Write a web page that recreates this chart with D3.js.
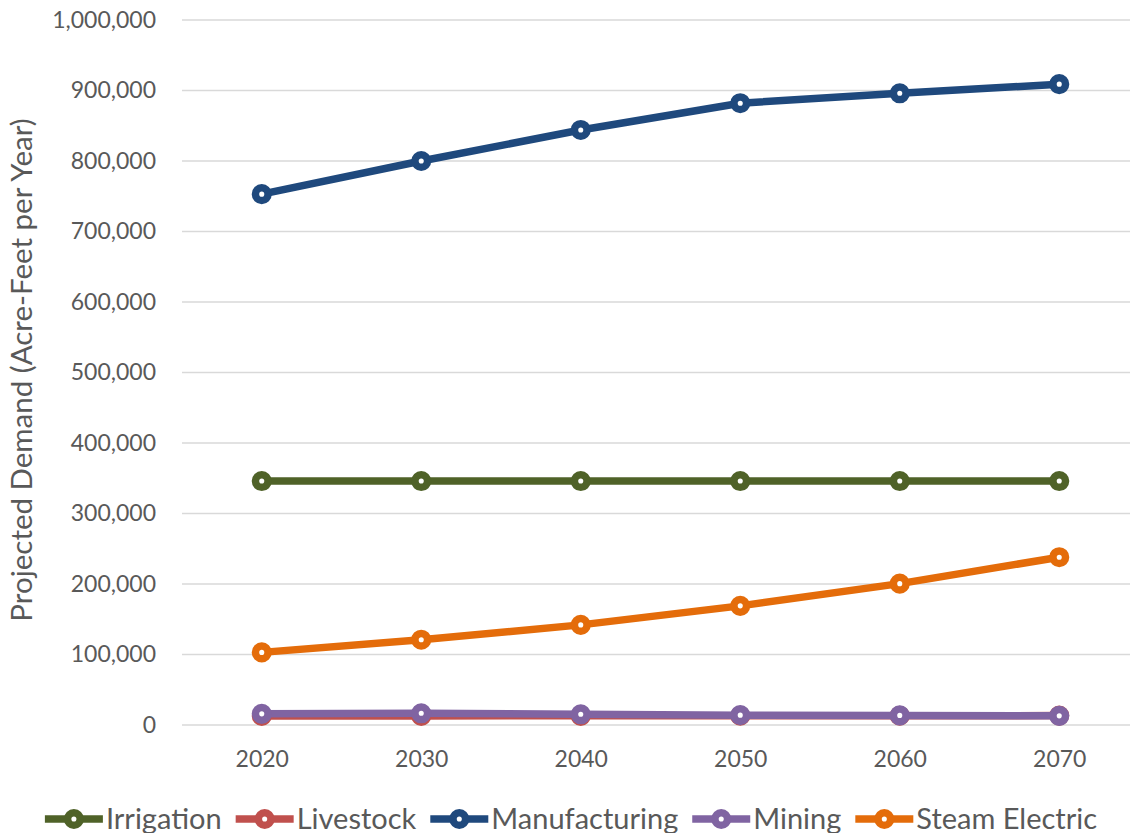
<!DOCTYPE html>
<html>
<head>
<meta charset="utf-8">
<script src="https://cdn.jsdelivr.net/npm/d3@7"></script>
<style>
  html, body { margin: 0; padding: 0; background: #fff; }
  svg { display: block; font-family: Lato, "Open Sans", sans-serif; }
</style>
</head>
<body>
<svg id="chart" width="1130" height="833"></svg>
<script>
// Projected water demand by use category, acre-feet per year
const years = ["2020", "2030", "2040", "2050", "2060", "2070"];
const irrigation    = [346000, 346000, 346000, 346000, 346000, 346000];
const livestock     = [12800, 12900, 13000, 13100, 13200, 13300];
const manufacturing = [753000, 800000, 844000, 882000, 896000, 909000];
const mining        = [15800, 16600, 15200, 14000, 13600, 13000];
const steamElectric = [103000, 121000, 142000, 169000, 200500, 238000];
const yTicks = [0, 100000, 200000, 300000, 400000, 500000, 600000, 700000, 800000, 900000, 1000000];

const seriesNames  = ["Irrigation", "Livestock", "Manufacturing", "Mining", "Steam Electric"];
const seriesValues = [irrigation, livestock, manufacturing, mining, steamElectric];
const seriesColors = ["#4F6228", "#C0504D", "#1F497D", "#8064A2", "#E46C0A"];

const series = seriesNames.map((name, i) => ({
  name, color: seriesColors[i],
  points: years.map((y, j) => ({ year: y, value: seriesValues[i][j] }))
}));

const svg = d3.select("#chart");
const plot = { left: 182, right: 1139, top: 20, bottom: 725 };
const textColor = "#595959";

const x = d3.scalePoint().domain(years).range([plot.left, plot.right]).padding(0.5);
const y = d3.scaleLinear().domain([0, 1000000]).range([plot.bottom, plot.top]);
const fmt = d3.format(",");

// horizontal gridlines
svg.append("g").selectAll("line").data(yTicks).join("line")
  .attr("x1", plot.left).attr("x2", plot.right)
  .attr("y1", d => y(d)).attr("y2", d => y(d))
  .attr("stroke", "#D9D9D9").attr("stroke-width", 1.5);

// y axis labels
const yAxis = svg.append("g").attr("transform", `translate(${plot.left},0)`)
  .call(d3.axisLeft(y).tickValues(yTicks).tickFormat(fmt).tickSize(0).tickPadding(26));
yAxis.select(".domain").remove();
yAxis.selectAll("text").attr("font-size", 23).attr("fill", textColor)
  .attr("font-family", "Lato, sans-serif");

// x axis labels
const xAxis = svg.append("g").attr("transform", `translate(0,${plot.bottom})`)
  .call(d3.axisBottom(x).tickSize(0).tickPadding(26));
xAxis.select(".domain").remove();
xAxis.selectAll("text").attr("font-size", 23).attr("fill", textColor)
  .attr("font-family", "Lato, sans-serif");

// y axis title
svg.append("text")
  .attr("transform", `translate(32,370) rotate(-90)`)
  .attr("text-anchor", "middle")
  .attr("font-size", 29.5).attr("fill", textColor)
  .text("Projected Demand (Acre-Feet per Year)");

// series lines and markers
const line = d3.line().x(d => x(d.year)).y(d => y(d.value));
const gSeries = svg.append("g");
series.forEach(s => {
  const g = gSeries.append("g");
  g.append("path").datum(s.points)
    .attr("d", line).attr("fill", "none")
    .attr("stroke", s.color).attr("stroke-width", 7.5)
    .attr("stroke-linejoin", "round").attr("stroke-linecap", "round");
  g.selectAll("circle").data(s.points).join("circle")
    .attr("cx", d => x(d.year)).attr("cy", d => y(d.value))
    .attr("r", 6.3).attr("fill", "#fff")
    .attr("stroke", s.color).attr("stroke-width", 7.5);
});

// legend
const legend = svg.append("g");
const legendY = 819;
const symW = 58, textGap = 3, itemGap = 14;
let cursor = 0;
const items = series.map(s => {
  const g = legend.append("g");
  g.append("line").attr("x1", 0).attr("x2", symW)
    .attr("y1", legendY).attr("y2", legendY)
    .attr("stroke", s.color).attr("stroke-width", 7.5);
  g.append("circle").attr("cx", symW / 2).attr("cy", legendY)
    .attr("r", 6.3).attr("fill", "#fff")
    .attr("stroke", s.color).attr("stroke-width", 7.5);
  const t = g.append("text").attr("x", symW + textGap).attr("y", legendY)
    .attr("dy", "0.36em").attr("font-size", 29).attr("fill", textColor)
    .text(s.name);
  const w = symW + textGap + t.node().getComputedTextLength();
  g.attr("transform", `translate(${cursor},0)`);
  cursor += w + itemGap;
  return g;
});
const totalW = cursor - itemGap;
legend.attr("transform", `translate(${571 - totalW / 2},0)`);
</script>
</body>
</html>
